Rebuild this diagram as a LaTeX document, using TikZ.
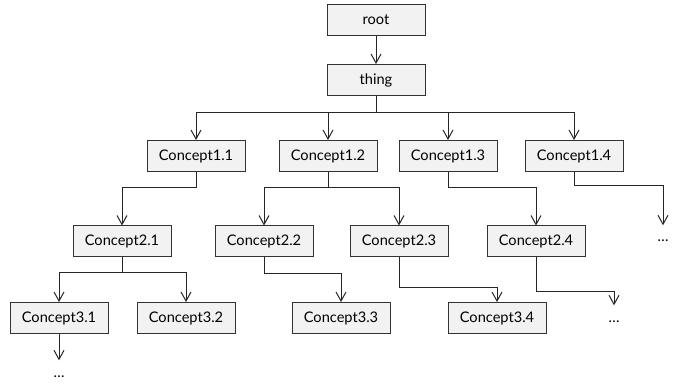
\documentclass[tikz,border=0pt]{standalone}
\usepackage{fontspec}
\setmainfont{Lato}
\usetikzlibrary{arrows.meta}
\definecolor{boxfill}{HTML}{F2F2F2}
\definecolor{boxline}{HTML}{333333}
\begin{document}
\begin{tikzpicture}[x=0.5pt,y=-0.5pt,
		every node/.style={draw=boxline,fill=boxfill,line width=0.5pt,
			minimum width=49pt,minimum height=15.5pt,inner sep=0pt,
			font=\fontsize{7.3}{9}\selectfont},
		more/.style={draw=none,fill=none,minimum width=0pt,minimum height=0pt,
			inner sep=1pt,text height=1.4ex,anchor=base},
		every edge/.style={draw,line width=0.5pt,black!85},
		elbow/.style={to path={(\tikztostart.south) -- ++(0,#1) -| (\tikztotarget.north)}},
		>={Straight Barb[length=4.5pt,width=5pt]}]
	\useasboundingbox (0,0) rectangle (689,384);
	\node (r) at (376, 20) {root};
	\node (t) at (376, 80) {thing};
	\path [->] (r) edge (t);
	% level 1
	\node (c11) at (196, 156) {Concept1.1};
	\node (c12) at (328, 156) {Concept1.2};
	\node (c13) at (448, 156) {Concept1.3};
	\node (c14) at (574, 156) {Concept1.4};
	\path [->] (t) edge[elbow=17] (c11);
	\path [->] (t) edge[elbow=17] (c12);
	\path [->] (t) edge[elbow=17] (c13);
	\path [->] (t) edge[elbow=17] (c14);
	% level 2
	\node (c21) at (122, 241.5) {Concept2.1};
	\node (c22) at (264, 241.5) {Concept2.2};
	\node (c23) at (399, 241.5) {Concept2.3};
	\node (c24) at (536, 241.5) {Concept2.4};
	\node[more] (m14) at (663, 242) {\ldots};
	\path [->] (c11) edge[elbow=16] (c21);
	\path [->] (c12) edge[elbow=16] (c22);
	\path [->] (c12) edge[elbow=16] (c23);
	\path [->] (c13) edge[elbow=16] (c24);
	\path [->] (c14) edge[elbow=14] (m14);
	% level 3
	\node (c31) at (59, 318) {Concept3.1};
	\node (c32) at (186, 318) {Concept3.2};
	\node (c33) at (341, 318) {Concept3.3};
	\node (c34) at (497, 318) {Concept3.4};
	\node[more] (m24) at (614, 322) {\ldots};
	\node[more] (m31) at (59, 377) {\ldots};
	\path [->] (c21) edge[elbow=15] (c31);
	\path [->] (c21) edge[elbow=15] (c32);
	\path [->] (c22) edge[elbow=16] (c33);
	\path [->] (c23) edge[elbow=30] (c34);
	\path [->] (c24) edge[elbow=34] (m24);
	\path [->] (c31) edge (m31);
\end{tikzpicture}
\end{document}
